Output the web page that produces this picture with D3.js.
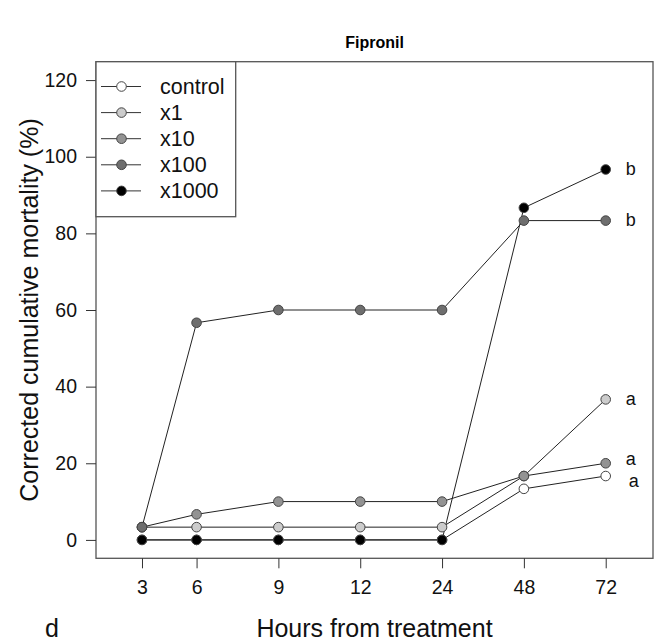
<!DOCTYPE html>
<html>
<head>
<meta charset="utf-8">
<script src="https://cdn.jsdelivr.net/npm/d3@7"></script>
<style>
  html, body { margin: 0; padding: 0; background: #fff; }
  svg { display: block; font-family: "Liberation Sans", Arial, sans-serif; }
</style>
</head>
<body>
<svg id="chart" width="664" height="641"></svg>
<script>
// hours on the x axis, and where each one sits on the (uneven) axis
const HOURS = ['3', '6', '9', '12', '24', '48', '72'];
const HOUR_POS = [1.333, 2, 3, 4, 5, 6, 7];

const SERIES = ['control', 'x1', 'x10', 'x100', 'x1000'];
const FILLS = ['#ffffff', '#cccccc', '#939393', '#6e6e6e', '#000000'];

const CONTROL = [0, 0, 0, 0, 0, 13.33, 16.67];
const X1      = [3.33, 3.33, 3.33, 3.33, 3.33, 16.67, 36.67];
const X10     = [3.33, 6.67, 10, 10, 10, 16.67, 20];
const X100    = [3.33, 56.67, 60, 60, 60, 83.33, 83.33];
const X1000   = [0, 0, 0, 0, 0, 86.67, 96.67];
const VALUES = [CONTROL, X1, X10, X100, X1000];

// significance letters at 72 h (value where the letter is placed)
const LETTERS = ['a', 'a', 'a', 'b', 'b'];
const LETTER_AT = [15.4, 36.67, 21, 83.33, 96.67];

const Y_TICKS = [0, 20, 40, 60, 80, 100, 120];

const svg = d3.select('#chart');
const box = { left: 96, right: 653, top: 61.7, bottom: 558.3 };

const x = d3.scaleLinear().domain([0.771, 7.578]).range([box.left, box.right]);
const y = d3.scaleLinear().domain([-4.8, 124.8]).range([box.bottom, box.top]);

// plot frame
svg.append('rect')
  .attr('x', box.left).attr('y', box.top)
  .attr('width', box.right - box.left).attr('height', box.bottom - box.top)
  .attr('fill', 'none').attr('stroke', '#555').attr('stroke-width', 1.3);

// y axis
const yAxis = svg.append('g')
  .attr('transform', `translate(${box.left},0)`)
  .call(d3.axisLeft(y).tickValues(Y_TICKS).tickSize(10).tickPadding(9));
yAxis.select('.domain').remove();
yAxis.selectAll('line').attr('stroke', '#333');
yAxis.selectAll('text').attr('font-size', 19.5).attr('fill', '#111')
  .attr('font-family', '"Liberation Sans", Arial, sans-serif');

// x axis (ticks only, frame carries the line)
const xAxis = svg.append('g')
  .attr('transform', `translate(0,${box.bottom})`)
  .call(d3.axisBottom(x).tickValues(HOUR_POS).tickFormat((d, i) => HOURS[i])
    .tickSize(10).tickPadding(12));
xAxis.select('.domain').remove();
xAxis.selectAll('line').attr('stroke', '#333');
xAxis.selectAll('text').attr('font-size', 19.5).attr('fill', '#111')
  .attr('font-family', '"Liberation Sans", Arial, sans-serif');

// lines + points
const line = d3.line().x((d, i) => x(HOUR_POS[i])).y(d => y(d));
const lineG = svg.append('g');
const ptG = svg.append('g');
VALUES.forEach((vals, s) => {
  lineG.append('path')
    .attr('d', line(vals))
    .attr('fill', 'none')
    .attr('stroke', '#222')
    .attr('stroke-width', 1);
  ptG.selectAll(null)
    .data(vals)
    .join('circle')
    .attr('cx', (d, i) => x(HOUR_POS[i]))
    .attr('cy', d => y(d))
    .attr('r', 4.8)
    .attr('fill', FILLS[s])
    .attr('stroke', '#444')
    .attr('stroke-width', 1);
});

// letters
svg.append('g').selectAll('text')
  .data(LETTERS)
  .join('text')
  .attr('x', (d, i) => x(HOUR_POS[6]) + (i === 0 ? 28 : 25))
  .attr('y', (d, i) => y(LETTER_AT[i]))
  .attr('dy', '0.32em')
  .attr('text-anchor', 'middle')
  .attr('font-size', 18)
  .attr('fill', '#111')
  .text(d => d);

// legend
const leg = svg.append('g');
leg.append('rect')
  .attr('x', box.left).attr('y', box.top)
  .attr('width', 139.7).attr('height', 155)
  .attr('fill', '#fff').attr('stroke', '#555').attr('stroke-width', 1.3);
SERIES.forEach((name, i) => {
  const ly = 86.5 + i * 26.1;
  leg.append('line')
    .attr('x1', 101).attr('x2', 141).attr('y1', ly).attr('y2', ly)
    .attr('stroke', '#333').attr('stroke-width', 1);
  leg.append('circle')
    .attr('cx', 121.5).attr('cy', ly).attr('r', 4.8)
    .attr('fill', FILLS[i]).attr('stroke', '#444');
  leg.append('text')
    .attr('x', 160).attr('y', ly).attr('dy', '0.35em')
    .attr('font-size', 21.5).attr('fill', '#111')
    .text(name);
});

// titles
svg.append('text')
  .attr('x', (box.left + box.right) / 2).attr('y', 48)
  .attr('text-anchor', 'middle')
  .attr('font-size', 16).attr('font-weight', 'bold')
  .text('Fipronil');

svg.append('text')
  .attr('x', (box.left + box.right) / 2).attr('y', 637)
  .attr('text-anchor', 'middle')
  .attr('font-size', 25).attr('fill', '#111')
  .text('Hours from treatment');

svg.append('text')
  .attr('x', 52).attr('y', 637)
  .attr('text-anchor', 'middle')
  .attr('font-size', 25).attr('fill', '#111')
  .text('d');

svg.append('text')
  .attr('transform', `translate(38,${(box.top + box.bottom) / 2}) rotate(-90)`)
  .attr('text-anchor', 'middle')
  .attr('font-size', 25).attr('fill', '#111')
  .text('Corrected cumulative mortality (%)');
</script>
</body>
</html>
